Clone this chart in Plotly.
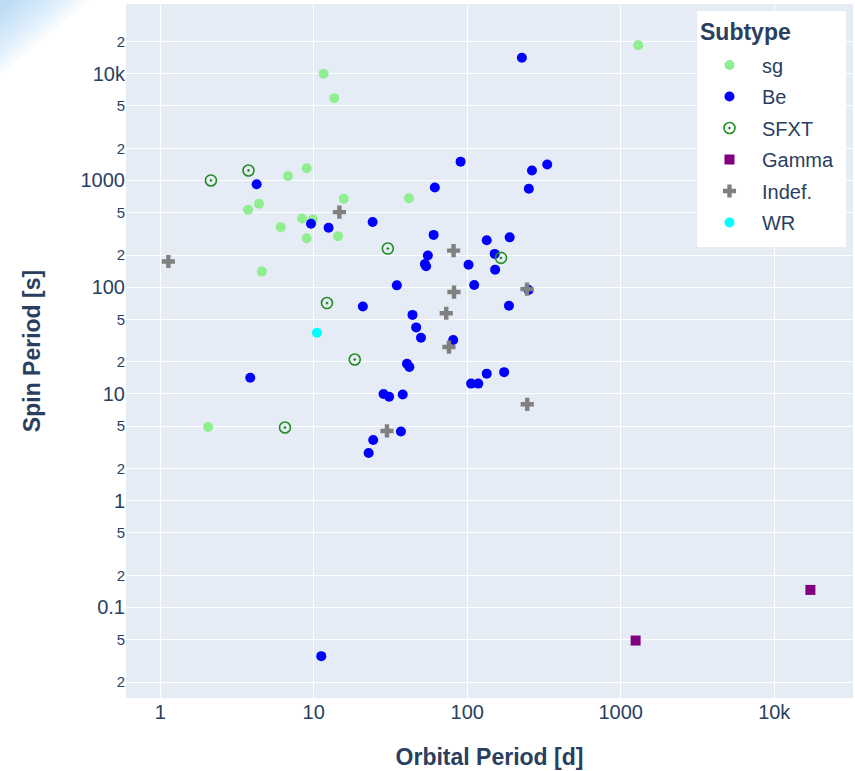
import plotly.graph_objects as go

# ---- data (orbital period [d], spin period [s]) ----
sg_orb = [11.6, 13.6, 1300, 6.8, 9.0, 3.74, 4.4, 8.4, 6.1, 9.0, 4.6, 9.9, 15.7, 41.7, 14.4, 2.05]
sg_spin = [10000, 5900, 18500, 1100, 1300, 530, 605, 440, 365, 287, 140, 430, 675, 680, 300, 4.9]

be_orb = [227, 4.25, 9.6, 12.5, 90.5, 61.5, 264, 332, 252, 24.2,
          60.4, 134, 189, 55.4, 53, 54, 151, 102, 152, 34.8,
          111, 251, 20.9, 3.86, 24.4, 22.8, 44, 46.5, 50, 81,
          187, 40.5, 42, 106, 118, 134, 174, 28.5, 31, 38,
          37, 11.2]
be_spin = [14100, 920, 393, 360, 1500, 860, 1240, 1410, 835, 408,
           309, 275, 293, 198, 165, 157, 205, 162, 146, 104,
           105, 94, 66, 14.2, 3.7, 2.8, 55, 42, 33.6, 32,
           67, 19.2, 17.9, 12.5, 12.5, 15.5, 16, 10, 9.4, 9.9,
           4.45, 0.035]

sfxt_orb = [2.14, 3.76, 30.4, 166, 12.2, 18.5, 6.5]
sfxt_spin = [1000, 1240, 230, 188, 71, 21, 4.85]

gamma_orb = [1250, 17200]
gamma_spin = [0.049, 0.146]

indef_orb = [1.13, 14.7, 81.5, 82, 245, 73, 76, 246, 30]
indef_spin = [174, 505, 220, 90, 96, 57, 27.5, 8, 4.5]

wr_orb = [10.5]
wr_spin = [37.5]

FONT = "Arial"
TXT = "#2a3f5f"

fig = go.Figure()
fig.add_trace(go.Scatter(x=sg_orb, y=sg_spin, mode="markers", name="sg", legendgroup="sg",
                         marker=dict(color="lightgreen", size=10, symbol="circle")))
fig.add_trace(go.Scatter(x=be_orb, y=be_spin, mode="markers", name="Be", legendgroup="Be",
                         marker=dict(color="blue", size=10, symbol="circle")))
fig.add_trace(go.Scatter(x=sfxt_orb, y=sfxt_spin, mode="markers", name="SFXT", legendgroup="SFXT",
                         marker=dict(color="forestgreen", size=11, symbol="circle-open-dot",
                                     line=dict(width=1.6, color="forestgreen"))))
fig.add_trace(go.Scatter(x=gamma_orb, y=gamma_spin, mode="markers", name="Gamma", legendgroup="Gamma",
                         marker=dict(color="purple", size=10, symbol="square")))
fig.add_trace(go.Scatter(x=indef_orb, y=indef_spin, mode="markers", name="Indef.", legendgroup="Indef",
                         marker=dict(color="gray", size=11, symbol="cross")))
fig.add_trace(go.Scatter(x=wr_orb, y=wr_spin, mode="markers", name="WR", legendgroup="WR",
                         marker=dict(color="cyan", size=10, symbol="circle")))

# faint blue page decoration in the top-left corner (soft gradient approximation)
x_left, y_top = -0.1733, 1.0058
for k in range(10):
    a = 90 - k * 8.5   # leg lengths in px
    b = 75 - k * 7
    xr = x_left + a / 727
    yb = y_top - b / 694
    fig.add_shape(type="path", xref="paper", yref="paper", layer="below",
                  path=f"M {x_left} {y_top} L {xr} {y_top} L {x_left} {yb} Z",
                  fillcolor="rgba(110,175,240,0.055)", line=dict(width=0))

# legend box (white) with its title
fig.add_shape(type="rect", xref="paper", yref="paper", layer="above",
              x0=0.7858, x1=0.9904, y0=0.6499, y1=0.9899,
              fillcolor="white", line=dict(width=0))
fig.add_annotation(text="Subtype", xref="paper", yref="paper", x=0.7867, y=0.9596,
                   xanchor="left", yanchor="middle", showarrow=False,
                   font=dict(family=FONT, size=23, weight="bold", color=TXT))

fig.update_layout(
    width=855, height=771,
    template="plotly",
    margin=dict(l=126, r=2, t=4, b=73, autoexpand=False),
    font=dict(family=FONT, size=20, color=TXT),
    legend=dict(
        font=dict(family=FONT, size=20, color=TXT),
        x=0.7854, y=0.9402, xanchor="left", yanchor="top",
        bgcolor="rgba(0,0,0,0)", itemwidth=55, tracegroupgap=2.5,
    ),
    xaxis=dict(
        type="log", range=[-0.2228, 4.513], dtick=1,
        title=dict(text="Orbital Period [d]", standoff=26,
                   font=dict(family=FONT, size=23, weight="bold", color=TXT)),
        tickfont=dict(size=20),
    ),
    yaxis=dict(
        type="log", range=[-1.848, 4.6526], dtick="D2",
        title=dict(text="Spin Period [s]", standoff=33,
                   font=dict(family=FONT, size=23, weight="bold", color=TXT)),
        tickfont=dict(size=20),
    ),
)

fig.write_html("out.html", config={"displayModeBar": False},
               post_script="document.body.style.margin='0px';")
